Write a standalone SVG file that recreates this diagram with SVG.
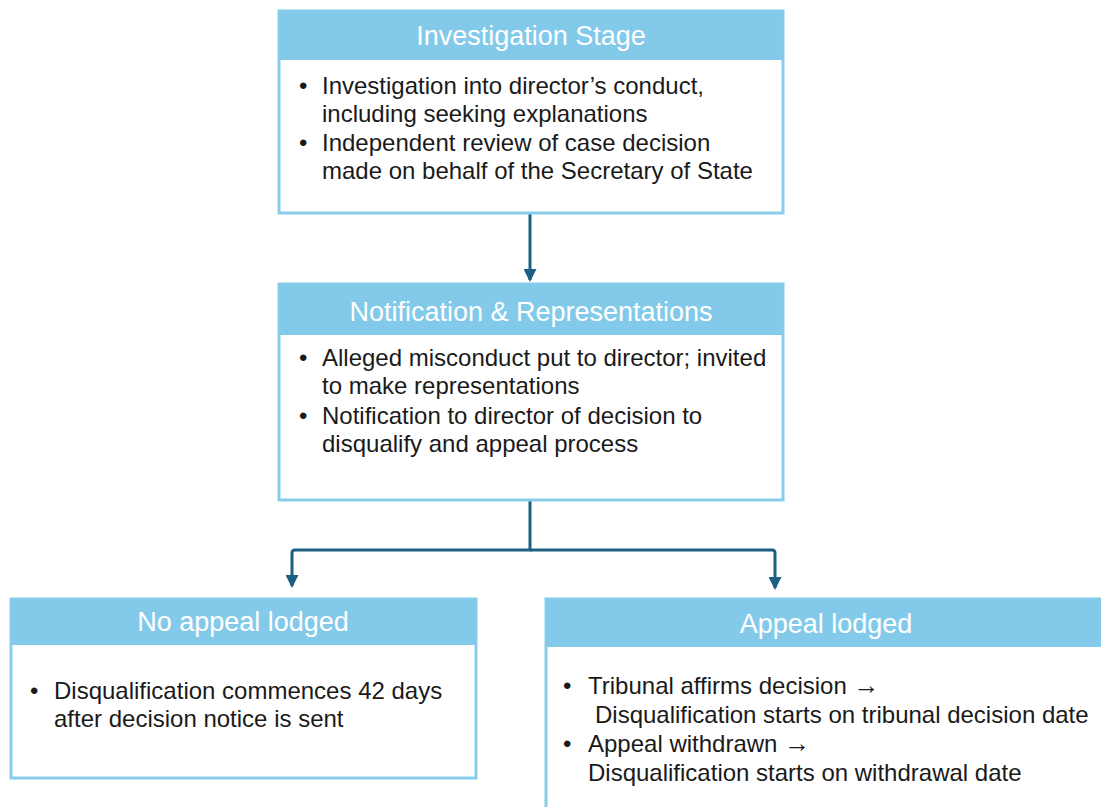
<svg xmlns="http://www.w3.org/2000/svg" width="1101" height="807" viewBox="0 0 1101 807">
<style>
.box{fill:#ffffff;stroke:#88CDEB;stroke-width:3}
.hdr{fill:#83CAEA}
.ht{font-family:"Liberation Sans",Arial,sans-serif;font-size:27px;fill:#ffffff;text-anchor:middle}
.bt{font-family:"Liberation Sans",Arial,sans-serif;font-size:24px;fill:#1a1a1a}
.con{fill:none;stroke:#1C5F82;stroke-width:3}
</style>
<defs>
<marker id="ah" markerUnits="userSpaceOnUse" markerWidth="13" markerHeight="13" refX="11" refY="6.5" orient="auto">
<path d="M0,0 L13,6.5 L0,13 z" fill="#1C5F82"/>
</marker>
</defs>
<rect width="1101" height="807" fill="#ffffff"/>
<g id="connectors">
<path class="con" d="M530,213 V280" marker-end="url(#ah)"/>
<path class="con" d="M530,500 V550 H295 Q292,550 292,553 V586" marker-end="url(#ah)"/>
<path class="con" d="M530,550 H772 Q775,550 775,553 V588" marker-end="url(#ah)"/>
</g>
<g id="investigation">
<rect class="box" x="279" y="11" width="504" height="202"/>
<rect class="hdr" x="279" y="11" width="504" height="49"/>
<text class="ht" x="531" y="45">Investigation Stage</text>
<text class="bt" x="299" y="94">•</text>
<text class="bt" x="322" y="94">Investigation into director’s conduct,</text>
<text class="bt" x="322" y="122">including seeking explanations</text>
<text class="bt" x="299" y="151">•</text>
<text class="bt" x="322" y="151">Independent review of case decision</text>
<text class="bt" x="322" y="179">made on behalf of the Secretary of State</text>
</g>
<g id="notification">
<rect class="box" x="279" y="284" width="504" height="216"/>
<rect class="hdr" x="279" y="284" width="504" height="51"/>
<text class="ht" x="531" y="321">Notification &amp; Representations</text>
<text class="bt" x="299" y="366">•</text>
<text class="bt" x="322" y="366">Alleged misconduct put to director; invited</text>
<text class="bt" x="322" y="394">to make representations</text>
<text class="bt" x="299" y="424">•</text>
<text class="bt" x="322" y="424">Notification to director of decision to</text>
<text class="bt" x="322" y="452">disqualify and appeal process</text>
</g>
<g id="no-appeal">
<rect class="box" x="11" y="599" width="465" height="179"/>
<rect class="hdr" x="11" y="599" width="465" height="46"/>
<text class="ht" x="243" y="631">No appeal lodged</text>
<text class="bt" x="30" y="699">•</text>
<text class="bt" x="54" y="699">Disqualification commences 42 days</text>
<text class="bt" x="54" y="727">after decision notice is sent</text>
</g>
<g id="appeal">
<rect class="box" x="546" y="599" width="562" height="215"/>
<rect class="hdr" x="546" y="599" width="562" height="48"/>
<text class="ht" x="826" y="633">Appeal lodged</text>
<text class="bt" x="563" y="694">•</text>
<text class="bt" x="588" y="694">Tribunal affirms decision <tspan font-size="26px">→</tspan></text>
<text class="bt" x="595" y="723">Disqualification starts on tribunal decision date</text>
<text class="bt" x="563" y="752">•</text>
<text class="bt" x="588" y="752">Appeal withdrawn <tspan font-size="26px">→</tspan></text>
<text class="bt" x="588" y="781">Disqualification starts on withdrawal date</text>
</g>
</svg>
